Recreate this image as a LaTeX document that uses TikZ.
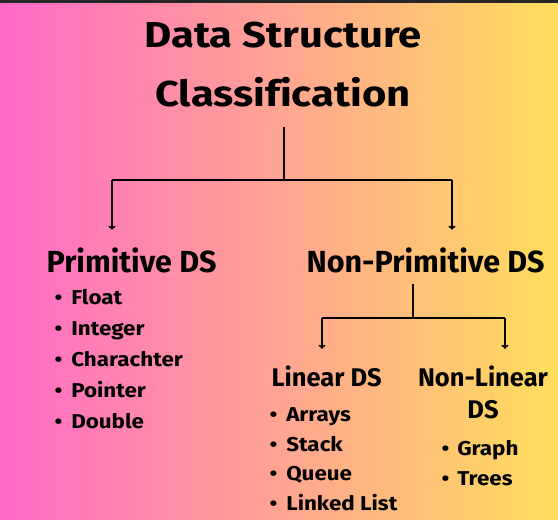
\documentclass[tikz,border=0pt]{standalone}
\usepackage{fontspec}
\setmainfont{Fira Sans}[Ligatures=NoCommon]
\newfontfamily\titlefont{Fira Sans}[Ligatures=NoCommon,FakeStretch=1.16]
\newfontfamily\itemfont{Fira Sans}[Ligatures=NoCommon,FakeStretch=1.12]
\usetikzlibrary{arrows.meta}
\definecolor{bgpink}{RGB}{255,106,200}
\definecolor{bgpeach}{RGB}{255,163,140}
\definecolor{bgyellow}{RGB}{255,222,92}
\tikzset{
  headtext/.style={anchor=base, font=\titlefont\bfseries\fontsize{36}{36}\selectfont},
  grouptext/.style={anchor=base west, font=\bfseries\fontsize{30.5}{30.5}\selectfont},
  subtext/.style={anchor=base west, font=\bfseries\fontsize{25.5}{32}\selectfont},
  itemtext/.style={anchor=base west, font=\itemfont\bfseries\fontsize{20}{20}\selectfont},
  branch/.style={line width=1.6pt},
  branchdown/.style={branch, -{To[length=4pt,width=7pt]}},
}
\begin{document}
\begin{tikzpicture}[x=1pt,y=-1pt]
% background
\shade[left color=bgpink, middle color=bgpeach, right color=bgyellow] (0,0) rectangle (558,520);
\fill[black!85] (0,0) rectangle (558,3);
\useasboundingbox (0,0) rectangle (558,520);

% title
\node[headtext] (title1) at (283,47) {Data Structure};
\node[headtext] (title2) at (283,106) {Classification};

% first split
\node[grouptext] (prim) at (43,272) {Primitive DS};
\node[grouptext] (nonprim) at (303,272) {Non-Primitive DS};
\coordinate (j) at (284,180);
\coordinate (jl) at (112,180);
\coordinate (jr) at (452,180);
\draw[branch, shorten <=17pt] (title2.south -| j) -- (j);
\draw[branch] (jl) -- (jr);
\draw[branchdown, shorten >=14pt] (jl) -- (jl |- prim.north);
\draw[branchdown, shorten >=14pt] (jr) -- (jr |- nonprim.north);

% primitive items
\foreach \name [count=\i] in {Float,Integer,Charachter,Pointer,Double}
  \node[itemtext] (p\i) at (51,273+31*\i) {\textbullet\hspace{9pt}\name};

% second split
\node[subtext] (lin) at (268,386) {Linear DS};
\node[subtext, align=center, anchor=base] (nonlin) at (483,418) {Non-Linear\\DS};
\coordinate (k) at (413,318);
\coordinate (kl) at (322,318);
\coordinate (kr) at (505,318);
\draw[branch, shorten <=8pt] (nonprim.south -| k) -- (k);
\draw[branch] (kl) -- (kr);
\draw[branchdown, shorten >=13pt] (kl) -- (kl |- lin.north);
\draw[branchdown, shorten >=13pt] (kr) -- (kr |- nonlin.north);

% linear items
\foreach \name [count=\i] in {Arrays,Stack,Queue,Linked List}
  \node[itemtext] (l\i) at (266,392+29.5*\i) {\textbullet\hspace{9pt}\name};

% non-linear items
\foreach \name [count=\i] in {Graph,Trees}
  \node[itemtext] (n\i) at (438,426+29.5*\i) {\textbullet\hspace{8pt}\name};
\end{tikzpicture}
\end{document}
